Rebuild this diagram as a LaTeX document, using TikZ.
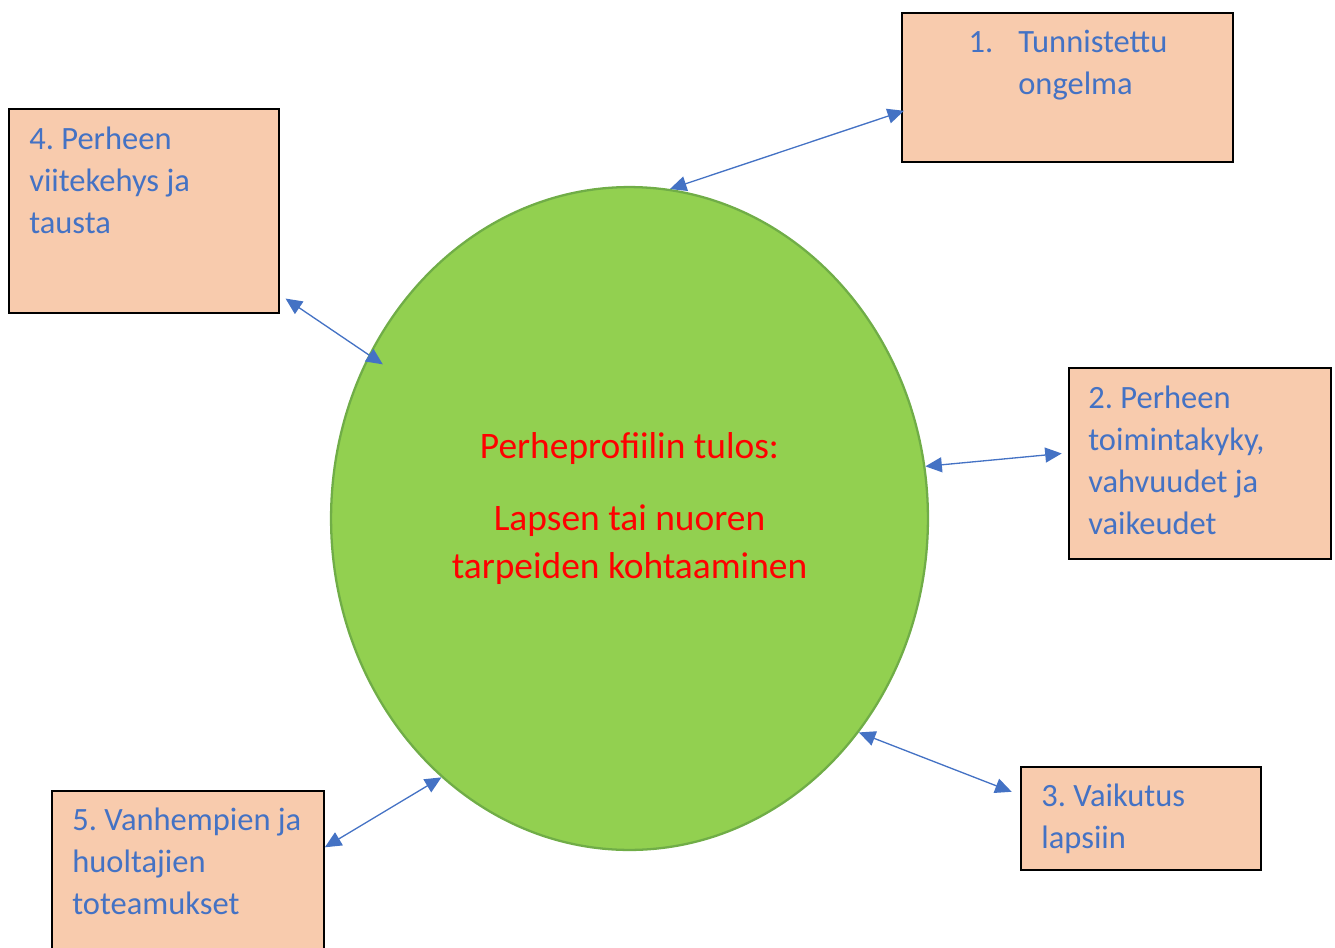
\documentclass[tikz,border=0pt]{standalone}
\usepackage{fontspec}
\setmainfont{Carlito}
\usetikzlibrary{arrows.meta,shapes.geometric,positioning,calc}
\definecolor{boxcolor}{RGB}{248,203,173}
\definecolor{circlecolor}{RGB}{146,208,80}
\definecolor{circleline}{RGB}{112,173,71}
\definecolor{textblue}{RGB}{68,114,196}
\frenchspacing

\begin{document}
\begin{tikzpicture}[x=0.02cm, y=-0.02cm,
    infobox/.style={draw=black, line width=0.9pt, fill=boxcolor, anchor=north west, inner sep=0pt},
    infotext/.style={anchor=base west, align=left, inner sep=0pt, text=textblue, font=\fontsize{18.5pt}{23.9pt}\selectfont},
    link/.style={{Triangle[length=0.33cm,width=0.3cm]}-{Triangle[length=0.33cm,width=0.3cm]}, draw=textblue, line width=0.75pt}]
    \path[use as bounding box, clip] (0,0) rectangle (1335,947);

    % Result
    \node[draw=circleline, line width=1.3pt, fill=circlecolor, ellipse, inner sep=0pt, minimum width=11.94cm, minimum height=13.26cm] (circ) at (629.5,518.5) {};
    \node[anchor=base, align=center, inner sep=0pt, text=red, font=\fontsize{21.3pt}{27.3pt}\selectfont] (result) at (629.5,578)
        {Perheprofiilin tulos:\\[0.48cm] Lapsen tai nuoren\\ tarpeiden kohtaaminen};

    % Boxes
    \node[infobox, minimum width=6.62cm, minimum height=2.98cm] (box1) at (901,12) {};
    \node[infotext] (text1) at ([shift={(117,82)}]box1.north west)
        {\llap{1.\hspace{0.5cm}}Tunnistettu\\ ongelma};

    \node[infobox, minimum width=5.24cm, minimum height=3.82cm] (box2) at (1068,367) {};
    \node[infotext] (text2) at ([shift={(20,167)}]box2.north west)
        {2. Perheen\\ toimintakyky,\\ vahvuudet ja\\ vaikeudet};

    \node[infobox, minimum width=4.8cm, minimum height=2.06cm] (box3) at (1020,766) {};
    \node[infotext] (text3) at ([shift={(21,82)}]box3.north west)
        {3. Vaikutus\\ lapsiin};

    \node[infobox, minimum width=5.4cm, minimum height=4.08cm] (box4) at (8,108) {};
    \node[infotext] (text4) at ([shift={(21,125)}]box4.north west)
        {4. Perheen\\ viitekehys ja\\ tausta};

    \node[infobox, minimum width=5.44cm, minimum height=4.4cm] (box5) at (51,790) {};
    \node[infotext] (text5) at ([shift={(21,124)}]box5.north west)
        {5. Vanhempien ja\\ huoltajien\\ toteamukset};

    % Links
    \draw[link] (circ.83.6) -- ([shift={(3,23.5)}]box1.west);
    \draw[link] (circ.10.3) -- ([shift={(-6.3,-9.8)}]box2.west);
    \draw[link] (circ.-43.2) -- ([shift={(-8.3,-26.5)}]box3.west);
    \draw[link] ($(circ.center)!0.945!(circ.148.1)$) -- ([shift={(6,-15)}]box4.south east);
    \draw[link] (circ.-126) -- ([shift={(0.3,57.3)}]box5.north east);
\end{tikzpicture}
\end{document}
